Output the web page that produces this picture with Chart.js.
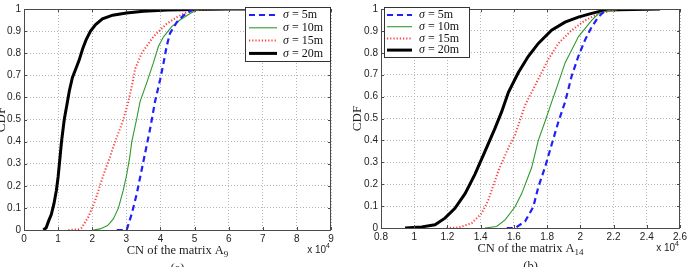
<!DOCTYPE html>
<html><head><meta charset="utf-8">
<script src="https://cdn.jsdelivr.net/npm/chart.js@4/dist/chart.umd.min.js"></script>
<style>
html,body{margin:0;padding:0;background:#fff;width:690px;height:267px;overflow:hidden}
.p{position:absolute;top:0;width:345px;height:267px}
</style></head><body>
<div class="p" style="left:0"><canvas id="ca" width="345" height="267"></canvas></div>
<div class="p" style="left:345px"><canvas id="cb" width="345" height="267"></canvas></div>
<script>
// ---- data (x in units of 10^4) ----
const seriesLabels = ['σ = 5m', 'σ = 10m', 'σ = 15m', 'σ = 20m'];
const xTicksA = [0,1,2,3,4,5,6,7,8,9];
const xTicksB = [0.8,1,1.2,1.4,1.6,1.8,2,2.2,2.4,2.6];
const yTicks = [0,0.1,0.2,0.3,0.4,0.5,0.6,0.7,0.8,0.9,1];

// panel (a): CN of A9
const a5_x  = [2.72,3.01,3.16,3.3,3.5,3.7,3.84,3.99,4.09,4.18,4.28,4.48,4.67,4.87,4.97];
const a5_y  = [0,0,0.074,0.16,0.31,0.46,0.58,0.68,0.755,0.83,0.89,0.94,0.97,0.99,1];
const a10_x = [2.03,2.23,2.45,2.62,2.77,2.91,3.01,3.1,3.16,3.3,3.4,3.6,3.79,3.94,4.09,4.33,4.57,4.87,5.06,5.3];
const a10_y = [0,0.005,0.02,0.05,0.10,0.18,0.25,0.33,0.4,0.5,0.58,0.667,0.755,0.83,0.874,0.92,0.95,0.98,0.995,1];
const a15_x = [1.3,1.6,1.69,1.89,2.08,2.33,2.52,2.67,2.82,2.91,3.06,3.16,3.26,3.45,3.79,4.18,4.48,4.77,5.16,5.65];
const a15_y = [0,0.003,0.01,0.06,0.13,0.25,0.33,0.4,0.46,0.5,0.58,0.65,0.73,0.8,0.874,0.933,0.963,0.985,0.997,1];
const a20_x = [0.57,0.65,0.72,0.8,0.88,0.95,1.0,1.05,1.1,1.18,1.25,1.33,1.42,1.52,1.62,1.72,1.82,1.95,2.1,2.3,2.6,3.0,3.5,4.2,5.0,6.0,8.1];
const a20_y = [0,0.01,0.04,0.07,0.12,0.18,0.24,0.32,0.4,0.5,0.56,0.63,0.69,0.73,0.77,0.82,0.86,0.9,0.93,0.955,0.972,0.982,0.99,0.995,0.998,1,1];

// panel (b): CN of A14
const b5_x  = [1.557,1.607,1.667,1.717,1.747,1.787,1.827,1.868,1.908,1.948,1.988,2.028,2.068,2.108,2.138,2.169];
const b5_y  = [0,0,0.03,0.097,0.187,0.276,0.38,0.485,0.575,0.694,0.784,0.858,0.918,0.963,0.985,1];
const b10_x = [1.426,1.496,1.547,1.607,1.647,1.707,1.747,1.787,1.827,1.868,1.908,1.948,1.988,2.028,2.068,2.108,2.169,2.249];
const b10_y = [0,0.007,0.037,0.097,0.157,0.276,0.4,0.485,0.575,0.664,0.754,0.813,0.873,0.91,0.948,0.978,0.993,1];
const b15_x = [1.195,1.266,1.346,1.406,1.446,1.506,1.567,1.607,1.667,1.707,1.747,1.807,1.868,1.948,2.028,2.108,2.189,2.23];
const b15_y = [0,0.002,0.022,0.067,0.127,0.26,0.366,0.425,0.56,0.62,0.68,0.77,0.843,0.903,0.948,0.978,0.993,1];
const b20_x = [0.945,1.045,1.125,1.185,1.245,1.306,1.366,1.426,1.486,1.526,1.567,1.627,1.687,1.747,1.827,1.908,1.988,2.068,2.149,2.48];
const b20_y = [0,0.005,0.015,0.045,0.09,0.157,0.246,0.35,0.455,0.53,0.62,0.71,0.784,0.843,0.903,0.94,0.963,0.98,0.995,1];

// ---- styles ----
const styles = [
  {borderColor:'#1f1fff', borderWidth:2.2, borderDash:[6,4]},
  {borderColor:'#2e9a2e', borderWidth:1.1, borderDash:[]},
  {borderColor:'#ff3b3b', borderWidth:2, borderDash:[1.2,2]},
  {borderColor:'#000000', borderWidth:3, borderDash:[]}
];
const pts = (xs, ys) => xs.map((x,i)=>({x, y:ys[i]}));
function datasets(list){
  return list.map((d,i)=>Object.assign({label:seriesLabels[i], data:pts(d[0],d[1]), pointRadius:0, tension:0, fill:false, borderCapStyle:'butt'}, styles[i]));
}

const SERIF = '"Liberation Serif","DejaVu Serif",serif';
const SANS = '"Liberation Sans","DejaVu Sans",sans-serif';

const decor = {
  id:'decor',
  afterDatasetsDraw(chart, args, o){
    const {ctx, chartArea:a} = chart;
    const xs = chart.scales.x, ys = chart.scales.y;
    ctx.save();
    ctx.setLineDash([]);
    ctx.strokeStyle = '#4a4a4a'; ctx.lineWidth = 1;
    ctx.strokeRect(Math.round(a.left)+0.5, Math.round(a.top)+0.5, Math.round(a.right-a.left)-1, Math.round(a.bottom-a.top));
    ctx.beginPath();
    xs.ticks.forEach(t=>{ const p = Math.round(xs.getPixelForValue(t.value))+0.5;
      ctx.moveTo(p,a.bottom); ctx.lineTo(p,a.bottom-3); ctx.moveTo(p,a.top); ctx.lineTo(p,a.top+3); });
    ys.ticks.forEach(t=>{ const p = Math.round(ys.getPixelForValue(t.value))+0.5;
      ctx.moveTo(a.left,p); ctx.lineTo(a.left+3,p); ctx.moveTo(a.right,p); ctx.lineTo(a.right-3,p); });
    ctx.stroke();
    // legend
    const L = o.legend;
    ctx.fillStyle = '#fff'; ctx.fillRect(L.x, L.y, L.w, L.h);
    ctx.strokeStyle = '#333'; ctx.lineWidth = 1;
    ctx.strokeRect(L.x+0.5, L.y+0.5, L.w, L.h);
    chart.data.datasets.forEach((ds,i)=>{
      const yy = L.y + L.first + i*L.step;
      ctx.save();
      ctx.strokeStyle = ds.borderColor; ctx.lineWidth = ds.borderWidth; ctx.setLineDash(ds.borderDash||[]);
      ctx.beginPath(); ctx.moveTo(L.x+L.s0, yy); ctx.lineTo(L.x+L.s1, yy); ctx.stroke();
      ctx.restore();
      ctx.fillStyle = '#111'; ctx.textBaseline = 'middle'; ctx.textAlign = 'left';
      ctx.font = 'italic 12px '+SERIF;
      const tx = L.x + L.t0;
      ctx.fillText('σ', tx, yy);
      const w = ctx.measureText('σ').width;
      ctx.font = '12px '+SERIF;
      ctx.fillText(ds.label.slice(1), tx+w, yy);
    });
    ctx.restore();
  },
  afterDraw(chart, args, o){
    const {ctx, chartArea:a} = chart;
    ctx.save();
    ctx.fillStyle = '#222';
    // x title with subscript
    const cx = (a.left+a.right)/2 + o.titleShift;
    ctx.font = '12.5px '+SERIF; ctx.textBaseline = 'alphabetic';
    const main = 'CN of the matrix A';
    const w1 = ctx.measureText(main).width;
    ctx.font = '9px '+SERIF;
    const w2 = ctx.measureText(o.sub).width;
    const x0 = cx - (w1+w2)/2;
    ctx.font = '12.5px '+SERIF; ctx.textAlign='left';
    ctx.fillText(main, x0, a.bottom+24);
    ctx.font = '9px '+SERIF;
    ctx.fillText(o.sub, x0+w1, a.bottom+27);
    // x 10^4
    ctx.font = '10px '+SANS;
    const t1 = 'x 10';
    const tw = ctx.measureText(t1).width;
    ctx.font = '7px '+SANS; const sw = ctx.measureText('4').width;
    const ex = a.right - 1 - tw - sw;
    ctx.font = '10px '+SANS; ctx.textAlign='left'; ctx.fillText(t1, ex, a.bottom+23);
    ctx.font = '7px '+SANS; ctx.fillText('4', ex+tw, a.bottom+18);
    // panel label
    ctx.font = '12.5px '+SERIF; ctx.textAlign='center';
    ctx.fillText(o.panel, cx, a.bottom+42);
    // y title
    ctx.save();
    ctx.translate(o.yTitleX, (a.top+a.bottom)/2);
    ctx.rotate(-Math.PI/2);
    ctx.font = '13px '+SERIF; ctx.textAlign='center'; ctx.textBaseline='middle';
    ctx.fillText('CDF', 0, 0);
    ctx.restore();
    ctx.restore();
  }
};

function makeChart(id, list, xmin, xmax, xTicks, yW, xH, padR, plug){
  return new Chart(document.getElementById(id), {
    type:'line',
    data:{datasets:datasets(list)},
    plugins:[decor],
    options:{
      responsive:false, animation:false, devicePixelRatio:1,
      layout:{padding:{left:0, top:5, right:padR, bottom:0}},
      plugins:{legend:{display:false}, tooltip:{enabled:false}, decor:plug},
      scales:{
        x:{type:'linear', min:xmin, max:xmax,
          afterBuildTicks:s=>{ s.ticks = xTicks.map(v=>({value:v})); },
          afterFit:s=>{ s.height = xH; },
          ticks:{font:{family:SANS, size:10}, color:'#222', padding:3, maxRotation:0, autoSkip:false,
            callback:v=>String(+v.toFixed(1))},
          grid:{color:'#b5b5b5', lineWidth:1, drawTicks:false},
          border:{display:false, dash:[1,2]}
        },
        y:{type:'linear', min:0, max:1,
          afterBuildTicks:s=>{ s.ticks = yTicks.map(v=>({value:v})); },
          afterFit:s=>{ s.width = yW; },
          ticks:{font:{family:SANS, size:10}, color:'#222', padding:3, autoSkip:false,
            callback:v=>String(+v.toFixed(1))},
          grid:{color:'#b5b5b5', lineWidth:1, drawTicks:false},
          border:{display:false, dash:[1,2]}
        }
      }
    }
  });
}

makeChart('ca', [[a5_x,a5_y],[a10_x,a10_y],[a15_x,a15_y],[a20_x,a20_y]], 0, 9, xTicksA, 24, 37, 14,
  {sub:'9', panel:'(a)', titleShift:0, yTitleX:1.5,
   legend:{x:245, y:7, w:85, h:54, first:8, step:12.8, s0:4, s1:32, t0:38}});
makeChart('cb', [[b5_x,b5_y],[b10_x,b10_y],[b15_x,b15_y],[b20_x,b20_y]], 0.8, 2.6, xTicksB, 36, 39, 10,
  {sub:'14', panel:'(b)', titleShift:0, yTitleX:13,
   legend:{x:39, y:7, w:85, h:50, first:8, step:11.7, s0:3, s1:28, t0:35}});
</script>
</body></html>
